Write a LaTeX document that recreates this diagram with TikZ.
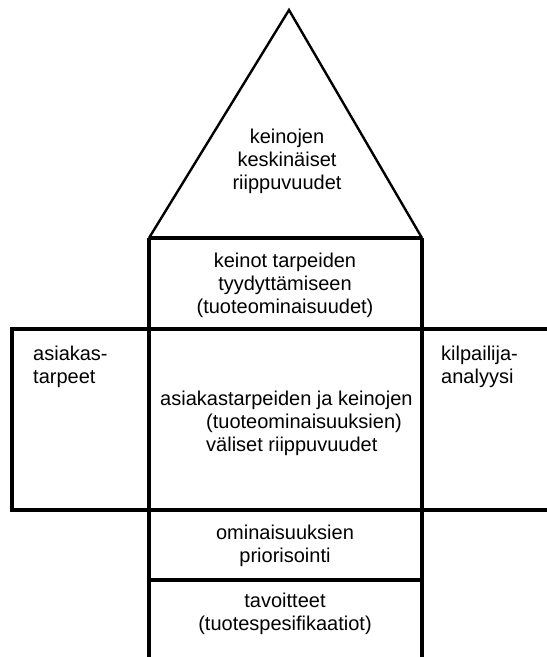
\documentclass[tikz,border=0pt]{standalone}
\usepackage{fontspec}
\setmainfont{Liberation Sans}
\begin{document}
\begin{tikzpicture}[x=1pt,y=1pt,
  wall/.style={line width=3.4pt},
  roof/.style={line width=2.4pt, line join=miter},
  lbl/.style={font=\fontsize{20}{23}\selectfont, align=center, inner sep=0pt},
  lbll/.style={lbl, align=left, anchor=west},
]
\useasboundingbox (0,0) rectangle (547,657);

% outline points of the house
\coordinate (apex) at (289,647);
\coordinate (roofL) at (149,419);
\coordinate (roofR) at (422,419);
\coordinate (colL) at (149,-3);
\coordinate (colR) at (422,-3);
\coordinate (wideTL) at (12,328);
\coordinate (wideTR) at (560,328);
\coordinate (wideBL) at (12,147);
\coordinate (wideBR) at (560,147);
\coordinate (sepL) at (149,77);
\coordinate (sepR) at (422,77);

% roof
\draw[roof] (roofL) -- (apex) -- (roofR);
% central column
\draw[wall] (roofL) -- (roofR);
\draw[wall] (roofL) -- (colL);
\draw[wall] (roofR) -- (colR);
% wide middle band
\draw[wall] (wideTR) -- (wideTL) -- (wideBL) -- (wideBR);
% lower separator
\draw[wall] (sepL) -- (sepR);

% labels
\node[lbl] (roofTxt) at (287,496) {keinojen\\keskinäiset\\riippuvuudet};
\node[lbl] (means) at (285,372) {keinot tarpeiden\\tyydyttämiseen\\(tuoteominaisuudet)};
\node[lbll] (needs) at (33,290) {asiakas-\\tarpeet};
\node[lbll] (comp) at (441,290) {kilpailija-\\analyysi};
\node[lbll] (matrix) at (160,234) {asiakastarpeiden ja keinojen\\\hspace*{46pt}(tuoteominaisuuksien)\\\hspace*{46pt}väliset riippuvuudet};
\node[lbl] (prio) at (285,111) {ominaisuuksien\\priorisointi};
\node[lbl] (goals) at (285,43) {tavoitteet\\(tuotespesifikaatiot)};
\end{tikzpicture}
\end{document}
